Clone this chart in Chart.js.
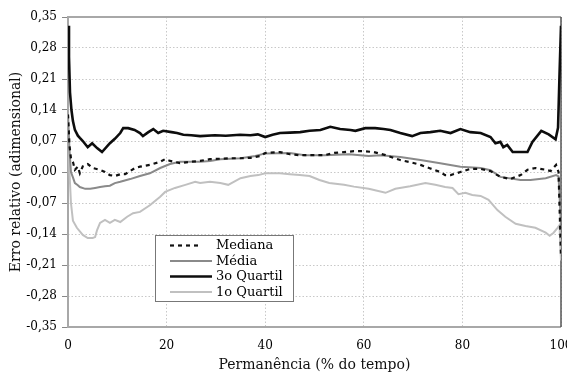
<!DOCTYPE html>
<html>
<head>
<meta charset="utf-8">
<script src="https://cdn.jsdelivr.net/npm/chart.js@4.4.1/dist/chart.umd.min.js"></script>
<style>
html,body{margin:0;padding:0;background:#fff;}
#wrap{width:567px;height:374px;position:relative;}
</style>
</head>
<body>
<div id="wrap"><canvas id="c" width="567" height="374"></canvas></div>
<script>
// ---- Data ----
const seriesNames = ["Mediana", "Média", "3o Quartil", "1o Quartil"];
const xTickValues = [0, 20, 40, 60, 80, 100];
const yTickValues = [-0.35, -0.28, -0.21, -0.14, -0.07, 0, 0.07, 0.14, 0.21, 0.28, 0.35];

const medianaX = [0,0.3,0.6,1,1.4, 2,2.4,3,4,5, 6.5,7.5,8.5,9.5,10.6, 11.6,12.6,13.6,14.6,16.6, 18.7,19.7,20.7,22.7,24.8, 26.8,28.8,31,33,35, 37,39,40,43,45, 47,50,52,54,56, 58,60,62,64.4,67.4, 69.5,71.5,73.5,75.5,76.5, 77.6,79.6,81.6,83.7,85.7, 87.7,89.7,91.8,93.2,94.8, 96.9,97.9,99,99.5,100];
const medianaY = [0.13,0.06,0.031,0.023,0.005, 0.012,-0.003,0.013,0.018,0.009, 0.005,0,-0.007,-0.009,-0.005, -0.005,0.002,0.009,0.012,0.016, 0.023,0.029,0.025,0.02,0.023, 0.025,0.029,0.030,0.031,0.031, 0.032,0.036,0.043,0.045,0.04, 0.038,0.038,0.038,0.043,0.045, 0.047,0.047,0.045,0.038,0.027, 0.022,0.016,0.008,0.0,-0.007, -0.007,0.0,0.007,0.007,0.002, -0.011,-0.016,-0.007,0.005,0.009, 0.005,0.002,0.016,0.0,-0.19];

const mediaX = [0,0.3,0.6,1,1.4, 2,2.4,3.5,4.5,5.5, 6.5,7.5,8.5,9.5,10.6, 12.6,14.6,16.6,18.7,20.7, 22.7,24.8,26.8,28.8,30.9, 35,38,40,45,48, 52,57,61,63.4,67.4, 71.5,75.5,79.6,83.7,85.7, 87.7,91.8,93.8,96.9,99, 99.5,100];
const mediaY = [0.13,0.05,0.0,-0.012,-0.025, -0.03,-0.034,-0.038,-0.038,-0.036, -0.034,-0.032,-0.031,-0.025,-0.022, -0.016,-0.009,-0.003,0.009,0.018, 0.023,0.023,0.023,0.025,0.029, 0.031,0.036,0.042,0.043,0.038, 0.038,0.04,0.036,0.038,0.034, 0.027,0.02,0.012,0.009,0.004, -0.011,-0.018,-0.018,-0.014,-0.007, -0.01,-0.12];

const q3X = [0,0.2,0.4,0.7,1, 1.4,2,2.4,3,4, 4.9,5.9,6.9,8.5,9.5, 10.6,11.2,12.2,13.5,14.6, 15.2,16.3,17.3,18.3,19.3, 21,22.1,23.4,25,26.8, 29.8,32,34.9,37,38.5, 40,41.5,43,45,47.1, 49,51.2,53.2,55.2,57.3, 58.3,60.3,62.3,64,65.4, 67.4,69.8,71.5,73.5,75.5, 77.6,79.6,81.6,83.7,85.7, 86.7,87.7,88.3,89.1,90.2, 91.8,93.2,94.2,96,97.5, 98.9,99.4,99.7,100];
const q3Y = [0.33,0.26,0.18,0.14,0.115, 0.095,0.082,0.077,0.07,0.056, 0.065,0.054,0.045,0.065,0.075, 0.088,0.099,0.099,0.095,0.088, 0.081,0.09,0.097,0.088,0.093, 0.09,0.088,0.084,0.083,0.081, 0.083,0.082,0.084,0.083,0.085, 0.079,0.084,0.088,0.089,0.090, 0.093,0.095,0.102,0.097,0.095, 0.093,0.099,0.099,0.097,0.095, 0.088,0.081,0.088,0.09,0.093, 0.088,0.097,0.090,0.088,0.079, 0.065,0.068,0.056,0.061,0.045, 0.045,0.045,0.068,0.093,0.085, 0.074,0.1,0.22,0.33];

const q1X = [0,0.3,0.6,1,1.8, 3,4,5,5.5,5.9, 6.5,7.5,8.5,9.5,10.6, 12,13.2,14.6,16.6,18.7, 19.7,21.7,23.8,25.8,26.8, 28.8,30.9,32.5,35,37, 38.6,40,43,45,47, 49,51,53,56,58, 61,64.4,66.4,69.4,72.5, 74.5,76.5,78,79.2,80.6, 82,83.7,85.3,87.1,88.7, 90.8,92.8,94.8,96.9,97.7, 98.5,99.3,99.7,100];
const q1Y = [0.10,0.0,-0.07,-0.11,-0.126, -0.142,-0.149,-0.149,-0.147,-0.131, -0.115,-0.108,-0.115,-0.108,-0.113, -0.101,-0.093,-0.09,-0.075,-0.056, -0.045,-0.036,-0.029,-0.022,-0.025, -0.022,-0.025,-0.029,-0.014,-0.009, -0.007,-0.003,-0.003,-0.005,-0.007, -0.009,-0.018,-0.025,-0.029,-0.033, -0.038,-0.047,-0.038,-0.032,-0.025, -0.029,-0.034,-0.036,-0.05,-0.047, -0.052,-0.054,-0.063,-0.086,-0.101, -0.117,-0.122,-0.126,-0.137,-0.144, -0.137,-0.126,-0.12,-0.20];

function pts(xs, ys){ return xs.map((x,i)=>({x:x, y:ys[i]})); }

const SERIF = "'DejaVu Serif', serif";

const legendPlugin = {
  id: 'boxLegend',
  afterDraw(chart){
    const ctx = chart.ctx;
    const bx = 155.5, by = 235.5, bw = 138, bh = 66;
    ctx.save();
    ctx.fillStyle = '#fff';
    ctx.fillRect(bx, by, bw, bh);
    ctx.strokeStyle = '#777';
    ctx.lineWidth = 1;
    ctx.strokeRect(bx, by, bw, bh);
    ctx.font = "13px " + SERIF;
    ctx.textBaseline = 'middle';
    ctx.fillStyle = '#000';
    chart.data.datasets.forEach((ds, i) => {
      const y = 245.5 + i * 15.5;
      ctx.beginPath();
      ctx.strokeStyle = ds.borderColor;
      ctx.lineWidth = ds.borderWidth;
      ctx.setLineDash(ds.borderDash || []);
      ctx.moveTo(170, y);
      ctx.lineTo(ds.borderDash ? 200 : 212, y);
      ctx.stroke();
      ctx.setLineDash([]);
      ctx.fillText(ds.label, 216, y + 0.5);
    });
    ctx.restore();
  }
};

const framePlugin = {
  id: 'frame',
  beforeDatasetsDraw(chart){
    const {ctx, chartArea:a} = chart;
    ctx.save();
    ctx.lineWidth = 2;
    ctx.strokeStyle = '#a8a8a8';
    ctx.beginPath();
    ctx.moveTo(a.right, a.top); ctx.lineTo(a.left, a.top);
    ctx.lineTo(a.left, a.bottom); ctx.lineTo(a.right, a.bottom);
    ctx.stroke();
    ctx.strokeStyle = '#555';
    ctx.lineWidth = 1.5;
    ctx.beginPath();
    ctx.moveTo(a.right, a.top); ctx.lineTo(a.right, a.bottom);
    ctx.stroke();
    ctx.restore();
  }
};

new Chart(document.getElementById('c'), {
  type: 'line',
  data: {
    datasets: [
      { label: seriesNames[0], data: pts(medianaX, medianaY), borderColor: '#111', borderWidth: 2.2, borderDash: [4,4], pointRadius: 0, tension: 0, fill: false },
      { label: seriesNames[1], data: pts(mediaX, mediaY), borderColor: '#8a8a8a', borderWidth: 2, pointRadius: 0, tension: 0, fill: false },
      { label: seriesNames[2], data: pts(q3X, q3Y), borderColor: '#0d0d0d', borderWidth: 2.6, pointRadius: 0, tension: 0, fill: false },
      { label: seriesNames[3], data: pts(q1X, q1Y), borderColor: '#c0c0c0', borderWidth: 2, pointRadius: 0, tension: 0, fill: false }
    ]
  },
  options: {
    responsive: false,
    animation: false,
    events: [],
    layout: { padding: { top: 17, right: 6, left: 0, bottom: 0 } },
    plugins: { legend: { display: false }, tooltip: { enabled: false } },
    scales: {
      x: {
        type: 'linear', min: 0, max: 100,
        afterBuildTicks(s){ s.ticks = xTickValues.map(v => ({value: v})); },
        afterFit(s){ s.height = 47; s.paddingLeft = 0; s.paddingRight = 0; },
        ticks: { font: { family: SERIF, size: 12 }, color: '#000', padding: 12, maxRotation: 0, autoSkip: false },
        grid: { color: '#c8c8c8', lineWidth: 1, drawTicks: false },
        border: { display: false, dash: [1.5, 2] },
        title: { display: true, text: 'Permanência (% do tempo)', font: { family: SERIF, size: 14 }, color: '#111', padding: { top: 0, bottom: 0 } }
      },
      y: {
        type: 'linear', min: -0.35, max: 0.35,
        afterBuildTicks(s){ s.ticks = yTickValues.map(v => ({value: v})); },
        afterFit(s){ s.width = 68; s.paddingTop = 0; s.paddingBottom = 0; },
        ticks: { font: { family: SERIF, size: 12 }, color: '#000', padding: 5,
          callback: (v) => v.toFixed(2).replace('.', ',') },
        grid: { color: '#c8c8c8', lineWidth: 1, drawTicks: true, tickLength: 6, tickColor: '#888', tickBorderDash: [] },
        border: { display: false, dash: [1.5, 2] },
        title: { display: true, text: 'Erro relativo (adimensional)', font: { family: SERIF, size: 14 }, color: '#111', padding: { top: 8, bottom: 0 } }
      }
    }
  },
  plugins: [framePlugin, legendPlugin]
});
</script>
</body>
</html>
